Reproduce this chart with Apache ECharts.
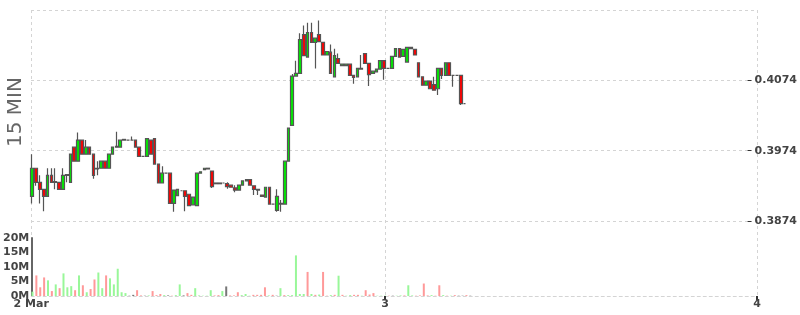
<!DOCTYPE html>
<html><head><meta charset="utf-8">
<script src="https://cdn.jsdelivr.net/npm/echarts@6/dist/echarts.min.js"></script>
<style>html,body{margin:0;padding:0;background:#fff}#c{width:800px;height:315px}</style>
</head><body><div id="c"></div>
<script>
// time in hours since 2 Mar 00:00, 15-minute bars
const startHour = 1.25;
const stepHour = 0.25;
const axisMinHour = 1.17;
const axisMaxHour = 48;
const xLabelValues = [axisMinHour, 24, 48];
const xLabelTexts = ['2 Mar', '3', '4'];
const priceMin = 0.3874, priceMax = 0.4174;
const priceLabels = [0.3874, 0.3974, 0.4074];
const volumeTicks = [0, 5e6, 10e6, 15e6, 20e6];

const opens = [
.3909,.3949,.3929,.3919,.3909,.3939,.3929,.3929,.3919,.3939,
.3929,.3979,.3959,.3989,.3969,.3979,.3969,.3948,.3949,.3959,
.3949,.3969,.3979,.3979,.3989,.3989,.3989,.3989,.3979,.3966,
.3966,.3989,.3991,.3955,.3928,.3942,.3942,.3899,.3910,.3917,
.3917,.3912,.3897,.3896,.3942,.3947,.3948,.3945,.3928,.3927,
.3928,.3927,.3925,.3921,.3918,.3925,.3931,.3933,.3924,.3919,
.3911,.3908,.3922,.3898,.3889,.3899,.3898,.3959,.4010,.4080,
.4084,.4139,.4107,.4142,.4128,.4139,.4128,.4110,.4114,.4079,
.4105,.4095,.4095,.4097,.4081,.4079,.4091,.4112,.4098,.4084,
.4086,.4090,.4102,.4091,.4091,.4108,.4119,.4108,.4100,.4121,
.4118,.4099,.4079,.4067,.4073,.4068,.4062,.4091,.4081,.4099,
.4081,.4081,.4081,.4041];
const closes = [
.3949,.3929,.3919,.3909,.3939,.3929,.3930,.3919,.3939,.3940,
.3969,.3959,.3989,.3969,.3979,.3969,.3939,.3949,.3959,.3949,
.3969,.3979,.3980,.3989,.3990,.3989,.3989,.3979,.3966,.3966,
.3991,.3969,.3955,.3928,.3942,.3942,.3899,.3918,.3919,.3917,
.3909,.3896,.3908,.3942,.3944,.3949,.3949,.3923,.3927,.3928,
.3928,.3923,.3922,.3918,.3925,.3931,.3933,.3925,.3919,.3918,
.3909,.3922,.3898,.3898,.3909,.3898,.3959,.4006,.4080,.4084,
.4132,.4109,.4142,.4128,.4134,.4129,.4110,.4115,.4084,.4109,
.4098,.4097,.4097,.4081,.4078,.4091,.4090,.4098,.4082,.4087,
.4090,.4102,.4091,.4091,.4108,.4119,.4107,.4118,.4121,.4119,
.4110,.4079,.4067,.4073,.4062,.4060,.4091,.4081,.4099,.4081,
.4081,.4081,.4041,.4041];
const lows = [
.3899,.3924,.3899,.3888,.3909,.3929,.3919,.3919,.3919,.3929,
.3929,.3959,.3959,.3969,.3969,.3969,.3934,.3939,.3949,.3949,
.3949,.3969,.3979,.3979,.3989,.3989,.3989,.3979,.3966,.3966,
.3966,.3969,.3955,.3928,.3928,.3942,.3899,.3887,.3910,.3917,
.3888,.3896,.3897,.3896,.3942,.3947,.3948,.3921,.3927,.3927,
.3928,.3920,.3922,.3915,.3918,.3925,.3931,.3925,.3911,.3911,
.3909,.3908,.3898,.3898,.3887,.3887,.3898,.3959,.4010,.4080,
.4084,.4109,.4107,.4128,.4091,.4129,.4110,.4110,.4084,.4079,
.4098,.4095,.4095,.4081,.4069,.4079,.4090,.4098,.4066,.4084,
.4086,.4090,.4075,.4091,.4091,.4108,.4107,.4108,.4099,.4119,
.4110,.4079,.4067,.4067,.4062,.4060,.4053,.4076,.4081,.4081,
.4065,.4081,.4039,.4041];
const highs = [
.3969,.3949,.3939,.3919,.3949,.3949,.3949,.3929,.3949,.3940,
.3969,.3979,.4000,.3989,.3989,.3979,.3969,.3959,.3959,.3959,
.3969,.3979,.4001,.3989,.3990,.3989,.3994,.3989,.3979,.3966,
.3991,.3989,.3991,.3955,.3952,.3942,.3942,.3918,.3919,.3917,
.3917,.3912,.3908,.3942,.3944,.3949,.3949,.3945,.3928,.3928,
.3928,.3929,.3925,.3925,.3925,.3931,.3933,.3933,.3924,.3919,
.3911,.3922,.3922,.3898,.3919,.3904,.3959,.4006,.4083,.4102,
.4141,.4152,.4156,.4156,.4134,.4159,.4128,.4115,.4125,.4119,
.4112,.4097,.4097,.4097,.4081,.4091,.4110,.4112,.4098,.4087,
.4090,.4102,.4102,.4091,.4108,.4119,.4119,.4118,.4121,.4121,
.4118,.4099,.4079,.4073,.4073,.4079,.4091,.4091,.4099,.4099,
.4081,.4081,.4081,.4041];
// volume in millions
const volumes = [
1.5,7.1,3.0,6.4,5.4,1.7,4.0,2.7,7.8,3.0,
3.4,2.0,7.1,3.7,1.3,2.4,5.7,8.1,2.7,7.1,
6.1,4.0,9.4,1.3,1.0,0.1,0.4,2.0,0.2,0.1,
0.2,1.7,0.3,0.7,0.3,0.2,0.1,0.3,4.0,0.2,
1.0,0.4,2.7,0.2,0.1,0.1,2.0,0.2,0.3,1.7,
3.3,0.2,0.2,1.3,0.3,0.7,0.1,0.4,0.4,0.4,
3.0,0.2,0.4,0.1,2.7,0.3,0.3,0.3,14.0,0.7,
0.7,8.3,0.7,0.4,0.5,8.3,0.1,0.3,0.4,7.0,
0.4,0.1,0.3,0.4,0.4,0.1,2.0,0.5,1.0,0.1,
0.1,0.1,0.1,0.1,0.1,0.2,0.2,3.7,0.2,0.1,
0.2,4.3,0.2,0.3,0.1,3.7,0.3,0.1,0.1,0.3,
0.1,0.1,0.3,0.1];

const times = opens.map((_, i) => startHour + i * stepHour);
const candleData = opens.map((o, i) => [times[i], o, closes[i], lows[i], highs[i]]);
const volData = volumes.map((v, i) => ({
  value: [times[i], v * 1e6],
  itemStyle: { color: closes[i] > opens[i] ? '#99f799' : (closes[i] < opens[i] ? '#ff9999' : '#777777') }
}));

const dash = { color: '#d4d4d4', type: [3, 3], width: 1 };
const labelFont = { fontFamily: 'DejaVu Sans', fontWeight: 'bold', fontSize: 11, color: '#444' };

const chart = echarts.init(document.getElementById('c'), null, { renderer: 'canvas' });
chart.setOption({
  animation: false,
  backgroundColor: '#fff',
  grid: [
    { left: 31, right: 43, top: 10, height: 211 },
    { left: 31, right: 43, top: 238, height: 58 },
    { left: 31, right: 43, top: 10, height: 286 }
  ],
  xAxis: [
    { gridIndex: 0, type: 'value', min: axisMinHour, max: axisMaxHour,
      axisLine: { show: false }, axisTick: { show: false }, axisLabel: { show: false }, splitLine: { show: false } },
    { gridIndex: 1, type: 'value', min: axisMinHour, max: axisMaxHour,
      axisLine: { show: true, lineStyle: dash },
      axisTick: { show: true, customValues: [24, 48], length: 4, lineStyle: { color: '#333', width: 2 } },
      axisLabel: Object.assign({ customValues: xLabelValues, margin: 3,
        formatter: v => { const k = xLabelValues.findIndex(t => Math.abs(t - v) < 1e-6); return k >= 0 ? xLabelTexts[k] : ''; } }, labelFont),
      splitLine: { show: false } },
    { gridIndex: 2, type: 'value', min: axisMinHour, max: axisMaxHour,
      axisLine: { show: false }, axisTick: { show: false, customValues: [axisMinHour, 24, 48] }, axisLabel: { show: false },
      splitLine: { show: true, lineStyle: dash } }
  ],
  yAxis: [
    { gridIndex: 0, type: 'value', position: 'right', min: priceMin, max: priceMax,
      axisLine: { show: false },
      axisTick: { show: true, customValues: priceLabels, length: 4, lineStyle: { color: '#333' } },
      axisLabel: Object.assign({ customValues: priceLabels, margin: 7, formatter: v => v.toFixed(4) }, labelFont),
      splitLine: { show: true, lineStyle: dash } },
    { gridIndex: 1, type: 'value', position: 'left', min: 0, max: 20e6,
      axisLine: { show: true, lineStyle: { color: '#666', width: 2 } },
      axisTick: { show: false, customValues: volumeTicks },
      axisLabel: Object.assign({ customValues: volumeTicks, margin: 2, formatter: v => Math.round(v / 1e6) + 'M' }, labelFont),
      splitLine: { show: false } },
    { gridIndex: 2, type: 'value', min: 0, max: 1, show: true,
      axisLine: { show: false }, axisLabel: { show: false },
      axisTick: { show: false, customValues: [1] },
      splitLine: { show: true, lineStyle: dash } }
  ],
  graphic: [{
    type: 'text', x: 16, y: 112, rotation: Math.PI / 2,
    style: { text: '15 MIN', fill: '#666', font: '20px "DejaVu Sans"', align: 'center', verticalAlign: 'middle' }
  }],
  series: [
    { type: 'candlestick', xAxisIndex: 0, yAxisIndex: 0, data: candleData,
      encode: { x: 0, y: [1, 2, 3, 4] }, barWidth: 3.2,
      itemStyle: { color: '#00ee00', color0: '#ff0000', borderColor: '#555', borderColor0: '#555', borderColorDoji: '#555', borderWidth: 1.2 } },
    { type: 'bar', xAxisIndex: 1, yAxisIndex: 1, data: volData, barWidth: 2 }
  ]
});
</script></body></html>
